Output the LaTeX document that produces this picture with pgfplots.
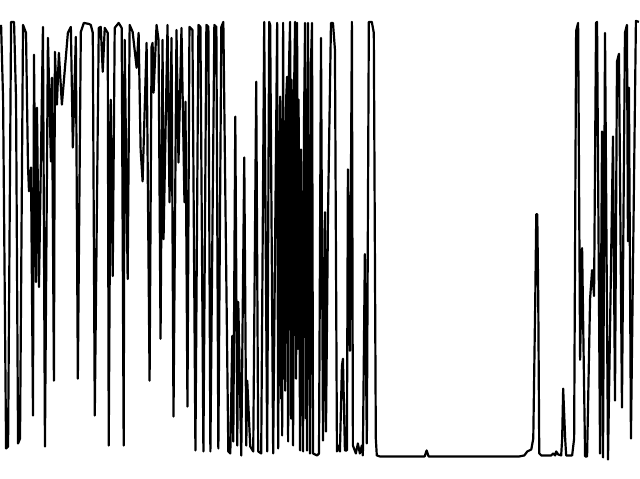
\documentclass[border=0pt]{standalone}
\usepackage{pgfplots}
\pgfplotsset{compat=1.18}
\begin{document}
\begin{tikzpicture}
\begin{axis}[width=640pt,height=480pt,scale only axis,xmin=0,xmax=640,ymin=0,ymax=480,y dir=reverse,axis lines=none,clip=false]
\path[draw=none] (rel axis cs:0,0) rectangle (rel axis cs:1,1);
\addplot[black,line width=2.2pt,mark=none,line join=round] coordinates {
(0,25)(2,100)(5,450)(7,448)(10,22)(13,22)(15,100)(17,445)(19,440)(22,25)(25,33)(27,167)(28,192)(30,168)(32,417)(33,55)(35,283)(36,108)(38,288)(42,27)(44,448)(47,38)(50,162)(51,78)(53,382)(54,52)(56,105)(58,53)(61,105)(67,33)(70,27)(72,148)(75,37)(77,380)(80,32)(83,23)(88,24)(90,25)(92,33)(94,417)(98,28)(100,27)(102,72)(104,28)(107,33)(108,447)(110,100)(112,277)(114,28)(118,23)(121,28)(123,447)(124,40)(127,280)(129,25)(132,32)(136,68)(138,33)(140,150)(142,182)(146,43)(149,382)(151,47)(152,43)(153,93)(156,25)(158,40)(160,340)(162,40)(163,240)(167,25)(169,203)(171,38)(173,418)(176,30)(178,163)(181,28)(184,203)(185,102)(187,408)(189,27)(192,30)(195,452)(198,25)(200,27)(203,453)(206,25)(208,27)(210,453)(214,25)(216,27)(218,450)(221,27)(223,22)(228,453)(230,455)(232,337)(233,443)(235,117)(237,447)(238,303)(241,457)(244,158)(246,447)(247,382)(250,448)(253,453)(256,82)(258,453)(261,455)(264,22)(267,453)(269,22)(270,25)(273,455)(277,23)(278,450)(280,97)(281,400)(281.5,120)(282,437)(283,23)(284,380)(284.5,150)(285,392)(286,100)(287,77)(288,443)(289,60)(290,22)(291,420)(291.5,80)(292,300)(293,447)(294,90)(295,22)(296,380)(297,23)(298,350)(298.5,100)(300,452)(301,150)(302,290)(303,453)(304,120)(305,23)(306,420)(306.5,90)(307,452)(308,23)(309,380)(309.5,150)(310,455)(311,60)(312,23)(313,455)(317,457)(319,455)(321,38)(323,442)(325,213)(326,433)(328,217)(331,23)(333,23)(335,50)(337,453)(338,447)(340,453)(342,367)(343,360)(345,452)(347,452)(348,170)(350,352)(352,22)(353,447)(356,455)(358,445)(360,455)(362,447)(363,457)(365,255)(367,445)(369,22)(372,22)(374,33)(376,440)(377,457)(380,458)(400,458)(425,458)(427,452)(429,458)(480,458)(520,458)(525,457)(528,453)(532,451)(534,440)(536,300)(537,215)(538,215)(539,300)(540,455)(542,457)(548,457)(552,457)(554,455)(556,457)(557,453)(559,456)(562,457)(563,440)(564,390)(566,440)(567,457)(573,457)(575,440)(577,31)(579,23)(581,361)(583,249)(586,458)(588,458)(591,300)(593,271)(595,297)(597,23)(598,22)(601,455)(603,132)(604,459)(606,33)(609,461)(614,137)(616,402)(618,62)(620,54)(623,409)(626,33)(628,25)(629,242)(630,88)(632,440)(637,21)(640,22)
};
\end{axis}
\end{tikzpicture}
\end{document}
